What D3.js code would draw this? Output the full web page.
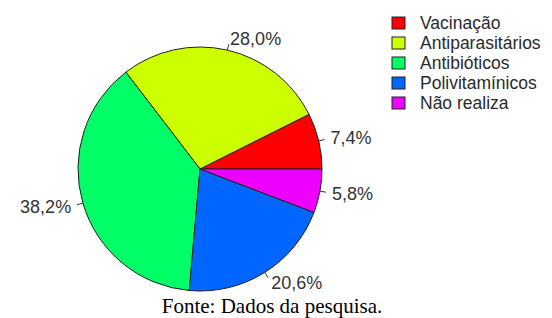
<!DOCTYPE html>
<html>
<head>
<meta charset="utf-8">
<script src="https://cdn.jsdelivr.net/npm/d3@7"></script>
<style>
  body { margin: 0; background: #fff; }
</style>
</head>
<body>
<div id="chart"></div>
<script>
const categories = ["Vacinação", "Antiparasitários", "Antibióticos", "Polivitamínicos", "Não realiza"];
const values = [7.4, 28.0, 38.2, 20.6, 5.8];
const labels = ["7,4%", "28,0%", "38,2%", "20,6%", "5,8%"];
const colors = ["#FF0000", "#CCFF00", "#00FF66", "#0066FF", "#EE00FF"];

const W = 552, H = 318;
const CX = 200, CY = 169, R = 122;

const svg = d3.select("#chart").append("svg")
  .attr("width", W)
  .attr("height", H);

const data = categories.map((c, i) => ({ name: c, value: values[i], label: labels[i], color: colors[i] }));

// R style pie: start at 3 o'clock, counter-clockwise
const pie = d3.pie()
  .sort(null)
  .value(d => d.value)
  .startAngle(Math.PI / 2)
  .endAngle(Math.PI / 2 - 2 * Math.PI);

const arc = d3.arc().innerRadius(0).outerRadius(R);

const g = svg.append("g")
  .attr("transform", `translate(${CX}, ${CY})`);

const arcs = pie(data);

g.selectAll("path.slice")
  .data(arcs)
  .enter().append("path")
  .attr("class", "slice")
  .attr("d", arc)
  .attr("fill", d => d.data.color)
  .attr("stroke", "#222")
  .attr("stroke-width", 1);

// label ticks and text
const mid = d => (d.startAngle + d.endAngle) / 2;
const px = (d, k) => Math.sin(mid(d)) * R * k;
const py = (d, k) => -Math.cos(mid(d)) * R * k;

g.selectAll("line.tick")
  .data(arcs)
  .enter().append("line")
  .attr("x1", d => px(d, 1))
  .attr("y1", d => py(d, 1))
  .attr("x2", d => px(d, 1.05))
  .attr("y2", d => py(d, 1.05))
  .attr("stroke", "#333")
  .attr("stroke-width", 1);

g.selectAll("text.lbl")
  .data(arcs)
  .enter().append("text")
  .attr("class", "lbl")
  .attr("x", d => px(d, 1.1))
  .attr("y", d => py(d, 1.1))
  .attr("dy", "0.35em")
  .attr("text-anchor", d => px(d, 1) < 0 ? "end" : "start")
  .attr("font-family", "Liberation Sans, Arial, sans-serif")
  .attr("font-size", "18px")
  .attr("fill", "#333")
  .text(d => d.data.label);

// Legend
const legend = svg.append("g")
  .attr("transform", "translate(392, 23)");

const rows = legend.selectAll("g.row")
  .data(data)
  .enter().append("g")
  .attr("class", "row")
  .attr("transform", (d, i) => `translate(0, ${i * 20})`);

rows.append("rect")
  .attr("x", 0)
  .attr("y", -6)
  .attr("width", 13)
  .attr("height", 12)
  .attr("fill", d => d.color)
  .attr("stroke", "#222")
  .attr("stroke-width", 1);

rows.append("text")
  .attr("x", 28)
  .attr("dy", "0.35em")
  .attr("font-family", "Liberation Sans, Arial, sans-serif")
  .attr("font-size", "17.5px")
  .attr("fill", "#2a2a2a")
  .text(d => d.name);

// source caption
svg.append("text")
  .attr("x", 272)
  .attr("y", 313)
  .attr("text-anchor", "middle")
  .attr("font-family", "Liberation Serif, Times New Roman, serif")
  .attr("font-size", "21px")
  .attr("fill", "#000")
  .text("Fonte: Dados da pesquisa.");
</script>
</body>
</html>
